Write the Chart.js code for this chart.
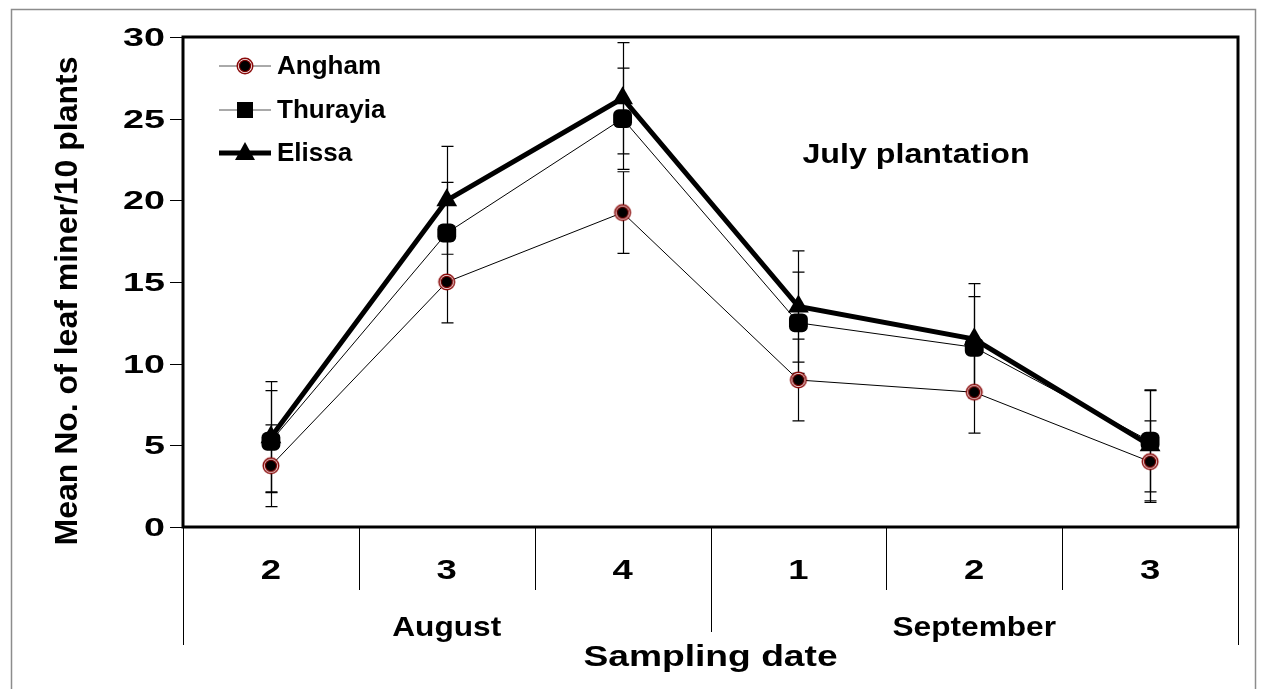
<!DOCTYPE html>
<html>
<head>
<meta charset="utf-8">
<script src="https://cdn.jsdelivr.net/npm/chart.js@4.4.1/dist/chart.umd.min.js"></script>
<style>
  body { margin: 0; background: #fff; }
  #wrap { width: 1262px; height: 689px; }
</style>
</head>
<body>
<div id="wrap"><canvas id="chart" width="1262" height="689"></canvas></div>
<script>
// data
const weeks = ['2', '3', '4', '1', '2', '3'];
const months = ['August', 'September'];
const monthSpans = [[0, 2], [3, 5]];
const yTicks = [0, 5, 10, 15, 20, 25, 30];

const angham = [3.75, 15, 19.25, 9, 8.25, 4];
const thurayia = [5.25, 18, 25, 12.5, 11, 5.25];
const elissa = [5.5, 20, 26.25, 13.5, 11.5, 5];

const anghamErr = [2.5, 2.5, 2.5, 2.5, 2.5, 2.5];
const thurayiaErr = [3.1, 3.1, 3.1, 3.1, 3.1, 3.1];
const elissaErr = [3.4, 3.3, 3.4, 3.4, 3.4, 3.4];

const FONT = '"Liberation Sans", Arial, sans-serif';

// ringed red/black circle marker used for Angham
function makeRing() {
    const c = document.createElement('canvas');
    c.width = 20; c.height = 20;
    const g = c.getContext('2d');
    const ring = (r, col) => { g.beginPath(); g.arc(10, 10, r, 0, Math.PI * 2); g.fillStyle = col; g.fill(); };
    ring(8.5, '#8b0a0a');
    ring(7, '#ffffff');
    ring(6.2, '#7a0000');
    ring(5, '#000000');
    return c;
}
const ringMarker = makeRing();

// text drawn a bit wider than the font, like the original figure
function wideText(ctx, txt, x, y, sx) {
    ctx.save();
    ctx.translate(x, y);
    ctx.scale(sx, 1);
    ctx.fillText(txt, 0, 0);
    ctx.restore();
}

const errorBars = {
    id: 'errorBars',
    beforeDatasetsDraw(chart) {
        const ctx = chart.ctx, x = chart.scales.x, y = chart.scales.y;
        const sets = [[angham, anghamErr], [thurayia, thurayiaErr], [elissa, elissaErr]];
        ctx.save();
        ctx.strokeStyle = '#000';
        ctx.lineWidth = 1.2;
        sets.forEach(([vals, errs]) => {
            vals.forEach((v, i) => {
                const px = Math.round(x.getPixelForValue(i)) + 0.5;
                const top = y.getPixelForValue(v + errs[i]);
                const bot = y.getPixelForValue(v - errs[i]);
                ctx.beginPath();
                ctx.moveTo(px, top); ctx.lineTo(px, bot);
                ctx.moveTo(px - 6, top); ctx.lineTo(px + 6, top);
                ctx.moveTo(px - 6, bot); ctx.lineTo(px + 6, bot);
                ctx.stroke();
            });
        });
        ctx.restore();
    }
};

const decor = {
    id: 'decor',
    afterDraw(chart) {
        const ctx = chart.ctx, a = chart.chartArea, x = chart.scales.x, y = chart.scales.y;
        ctx.save();

        // outer grey frame
        ctx.strokeStyle = '#8c8c8c';
        ctx.lineWidth = 1.5;
        ctx.strokeRect(11.5, 9.5, 1244, 720);

        // plot box
        ctx.strokeStyle = '#000';
        ctx.lineWidth = 3;
        ctx.strokeRect(a.left, a.top, a.right - a.left, a.bottom - a.top);

        // y ticks and labels
        ctx.lineWidth = 1;
        ctx.fillStyle = '#000';
        ctx.font = 'bold 26px ' + FONT;
        ctx.textAlign = 'right';
        ctx.textBaseline = 'middle';
        yTicks.forEach(t => {
            const py = Math.round(y.getPixelForValue(t)) + 0.5;
            ctx.beginPath(); ctx.moveTo(a.left - 13, py); ctx.lineTo(a.left, py); ctx.stroke();
            wideText(ctx, String(t), a.left - 18, py + 1, 1.45);
        });

        // y title
        ctx.save();
        ctx.translate(68, 301);
        ctx.rotate(-Math.PI / 2);
        ctx.textAlign = 'center';
        ctx.font = 'bold 32px ' + FONT;
        ctx.fillText('Mean No. of leaf miner/10 plants', 0, 0);
        ctx.restore();

        // x category separators (weeks)
        ctx.lineWidth = 1;
        for (let i = 0; i <= weeks.length; i++) {
            const px = Math.round(x.getPixelForValue(i - 0.5)) + 0.5;
            let len = 63;
            if (i === 0 || i === weeks.length) len = 118;
            else if (monthSpans.some(s => s[0] === i)) len = 105;
            ctx.beginPath(); ctx.moveTo(px, a.bottom); ctx.lineTo(px, a.bottom + len); ctx.stroke();
        }

        // week labels
        ctx.textAlign = 'center';
        ctx.font = 'bold 27px ' + FONT;
        weeks.forEach((w, i) => wideText(ctx, w, x.getPixelForValue(i), 572, 1.35));

        // month labels
        ctx.font = 'bold 28px ' + FONT;
        months.forEach((m, k) => {
            const cx = (x.getPixelForValue(monthSpans[k][0] - 0.5) + x.getPixelForValue(monthSpans[k][1] + 0.5)) / 2;
            wideText(ctx, m, cx, 628, 1.13);
        });

        // x title
        ctx.font = 'bold 30px ' + FONT;
        wideText(ctx, 'Sampling date', (a.left + a.right) / 2, 658, 1.24);

        // annotation
        ctx.font = 'bold 28px ' + FONT;
        wideText(ctx, 'July plantation', 916, 155, 1.15);

        // legend
        const rows = [
            { name: 'Angham', y: 66, lw: 1, mark: 'ring' },
            { name: 'Thurayia', y: 110, lw: 1, mark: 'square' },
            { name: 'Elissa', y: 153, lw: 5, mark: 'tri' }
        ];
        rows.forEach(r => {
            ctx.strokeStyle = r.lw > 1 ? '#000' : '#555';
            ctx.lineWidth = r.lw;
            ctx.beginPath(); ctx.moveTo(219, r.y); ctx.lineTo(271, r.y); ctx.stroke();
            ctx.fillStyle = '#000';
            if (r.mark === 'ring') {
                ctx.drawImage(ringMarker, 245 - 10, r.y - 10);
            } else if (r.mark === 'square') {
                ctx.fillRect(245 - 8, r.y - 8, 16, 16);
            } else {
                ctx.beginPath();
                ctx.moveTo(245, r.y - 11); ctx.lineTo(255, r.y + 7); ctx.lineTo(235, r.y + 7);
                ctx.closePath(); ctx.fill();
            }
            ctx.textAlign = 'left';
            ctx.font = 'bold 26px ' + FONT;
            ctx.fillText(r.name, 277, r.y + 1);
        });

        ctx.restore();
    }
};

new Chart(document.getElementById('chart'), {
    type: 'line',
    data: {
        labels: weeks,
        datasets: [
            {
                label: 'Angham',
                data: angham,
                borderColor: '#000',
                borderWidth: 1,
                pointStyle: ringMarker,
                order: 2
            },
            {
                label: 'Thurayia',
                data: thurayia,
                borderColor: '#000',
                borderWidth: 1,
                pointStyle: 'rectRounded',
                pointRadius: 11,
                pointBackgroundColor: '#000',
                pointBorderColor: '#000',
                pointBorderWidth: 0,
                order: 1
            },
            {
                label: 'Elissa',
                data: elissa,
                borderColor: '#000',
                borderWidth: 5,
                pointStyle: 'triangle',
                pointRadius: 12,
                pointBackgroundColor: '#000',
                pointBorderColor: '#000',
                pointBorderWidth: 0,
                order: 0
            }
        ]
    },
    options: {
        responsive: false,
        animation: false,
        events: [],
        layout: {
            padding: { left: 183, right: 24, top: 37, bottom: 162 }
        },
        elements: { line: { tension: 0 } },
        plugins: {
            legend: { display: false },
            tooltip: { enabled: false }
        },
        scales: {
            x: { type: 'category', offset: true, display: false },
            y: { min: 0, max: 30, display: false }
        }
    },
    plugins: [errorBars, decor]
});
</script>
</body>
</html>
